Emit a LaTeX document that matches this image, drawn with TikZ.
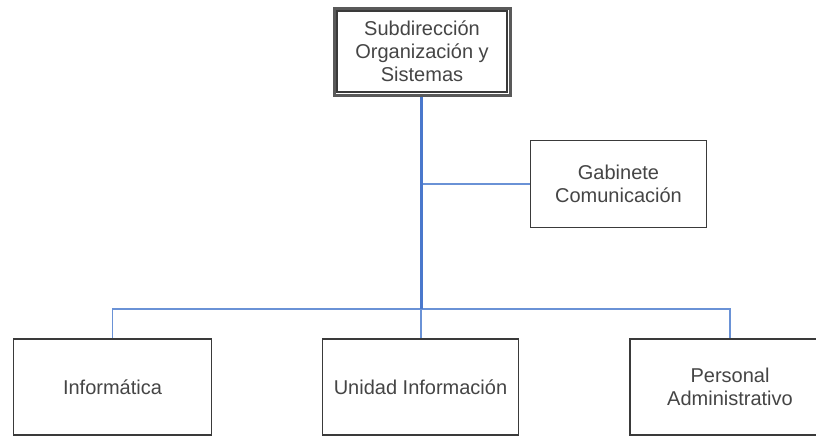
\documentclass[tikz,border=0pt]{standalone}
\usepackage{fontspec}
\setmainfont{Liberation Sans}
\definecolor{txt}{HTML}{454545}
\definecolor{bord}{HTML}{3A3A3A}
\definecolor{bluethick}{HTML}{4A78CC}
\definecolor{bluethin}{HTML}{6A92D6}
\begin{document}
\begin{tikzpicture}[x=1pt,y=-1pt,
  unit/.style={draw=bord, line width=1.8pt, fill=white, align=center, text=txt,
    font=\fontsize{20}{23}\selectfont, inner sep=0pt},
  trunk/.style={draw=bluethick, line width=3pt},
  branch/.style={draw=bluethin, line width=1.6pt}]
\clip (0,0) rectangle (816,437);
\fill[white] (0,0) rectangle (816,437);
% nodes
\node[unit, minimum width=176pt, minimum height=87pt, line width=3pt, draw=gray!70!black] (top) at (422,51.5) {};
\draw[bord, line width=1.2pt] ([shift={(4.5pt,-4.5pt)}]top.north west) rectangle ([shift={(-4.5pt,4.5pt)}]top.south east);
\node[align=center, text=txt, font=\fontsize{20}{23}\selectfont] (toptext) at (top.center) {Subdirección\\Organización y\\Sistemas};
\node[unit, minimum width=176pt, minimum height=87pt] (gab) at (618.5,184) {Gabinete\\Comunicación};
\node[unit, minimum width=198pt, minimum height=96pt] (inf) at (112.5,387) {Informática};
\node[unit, minimum width=196pt, minimum height=96pt] (uni) at (420.5,387) {Unidad Información};
\node[unit, minimum width=200pt, minimum height=96pt] (per) at (730,387) {Personal\\Administrativo};
% connectors
\coordinate (bus) at (421,309);
\coordinate (tr) at (421,97);
\draw[branch] (tr |- gab.west) -- (gab.west);
\draw[branch] (inf.north) |- (bus) -| (per.north);
\draw[branch] (bus) -- (bus |- uni.north);
\draw[trunk] (top.south -| tr) -- (bus);
\end{tikzpicture}
\end{document}
